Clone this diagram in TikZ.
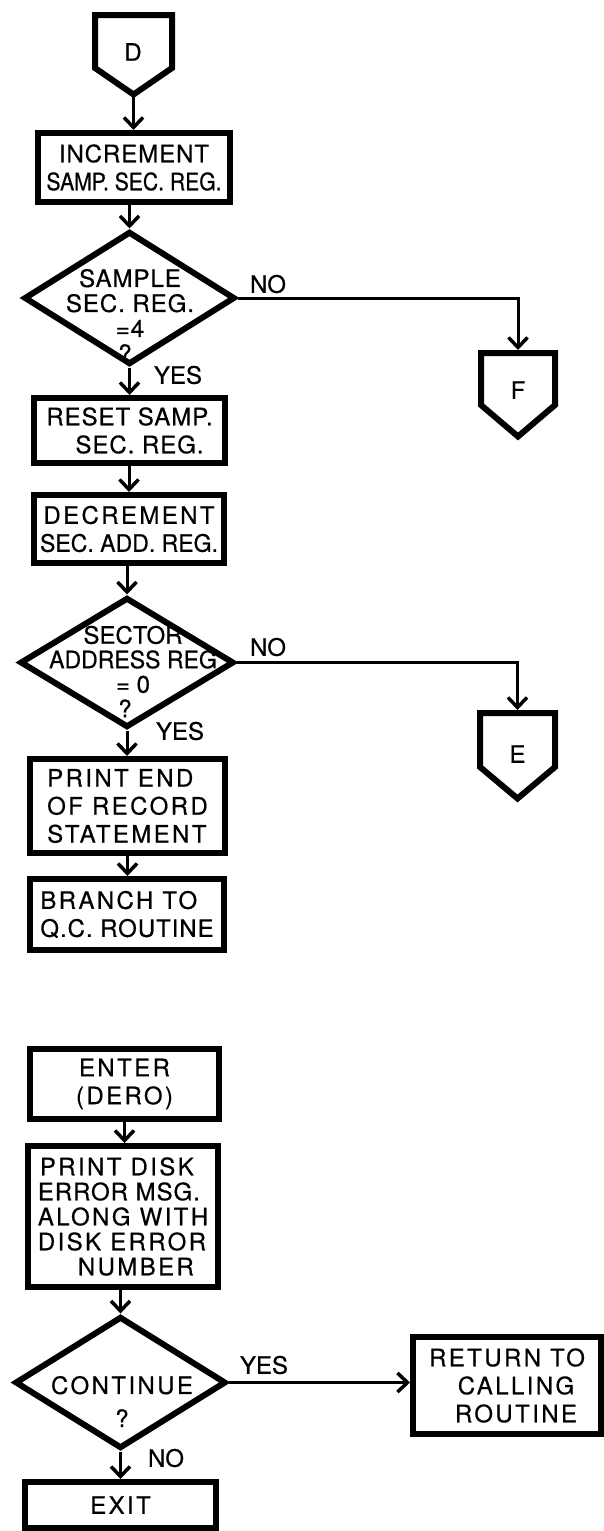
\documentclass[tikz,border=0pt]{standalone}
\usepackage{fontspec}
\usepackage{graphicx}
\usetikzlibrary{shapes.geometric,arrows.meta}
% hand-lettering look: one face, three letter spacings
\newfontfamily\lettering[LetterSpace=10,FakeBold=0.5]{TeX Gyre Heros}
\newfontfamily\letteringmid[LetterSpace=4,FakeBold=0.5]{TeX Gyre Heros}
\newfontfamily\letteringtight[FakeBold=0.5]{TeX Gyre Heros}

\tikzset{
  procbox/.style={draw, rectangle, line width=6pt, inner sep=0pt, align=center,
                  font=\lettering\fontsize{24}{28}\selectfont},
  decision/.style={draw, diamond, line width=6pt, inner sep=0pt},
  dtext/.style={inner sep=0pt, align=center, font=\letteringmid\fontsize{24}{25}\selectfont},
  flowlabel/.style={inner sep=0pt, font=\letteringtight\fontsize{24}{25}\selectfont},
  offpage/.style={line width=6pt, line join=miter},
  flowline/.style={line width=3pt, -{Straight Barb[length=10pt,width=19pt,line width=3.5pt]}},
}

\begin{document}
\begin{tikzpicture}[x=1pt, y=-1pt]
\useasboundingbox (0,0) rectangle (604,1531);

% ---- off-page connector D (entry) ----
\draw[offpage] (95,15) -- (172,15) -- (172,68) -- (133.5,94.5) -- (95,68) -- cycle;
\node[flowlabel] (dlbl) at (133,52) {D};
\coordinate (dtip) at (133.5,94.5);

% ---- sector loop ----
\node[procbox, minimum width=192pt, minimum height=69pt] (inc) at (134,167.5)
  {{\letteringmid INCREMENT}\\{\letteringtight\scalebox{0.88}[1]{SAMP. SEC. REG.}}};

\node[decision, minimum width=211pt, minimum height=133pt] (d1) at (129.5,298) {};
\node[dtext] (d1t) at (130,315.5) {SAMPLE\\SEC. REG.\\=4\\?\hspace*{10pt}};

\node[procbox, minimum width=191pt, minimum height=65pt] (reset) at (129.5,430.5)
  {{\letteringmid RESET SAMP.}\\\hspace*{20pt}{\letteringmid SEC. REG.}};

\node[procbox, minimum width=190pt, minimum height=68pt] (dec) at (129,529)
  {DECREMENT\\{\letteringtight\scalebox{0.96}[1]{SEC. ADD. REG.}}};

\node[decision, minimum width=214pt, minimum height=130pt] (d2) at (127,662.5) {};
\node[dtext, font=\letteringtight\fontsize{24}{24.5}\selectfont] (d2t) at (133,671.5)
  {SECTOR\\\scalebox{0.96}[1]{ADDRESS REG}\\= 0\hspace*{20pt}\\?\hspace*{16pt}};

\node[procbox, align=left, minimum width=195pt, minimum height=94pt] (pend) at (127.5,806)
  {PRINT END\\OF RECORD\\STATEMENT};

\node[procbox, align=left, minimum width=194pt, minimum height=71pt] (branch) at (127,914.5)
  {BRANCH TO\\{\letteringmid Q.C. ROUTINE}};

% ---- off-page connectors F and E ----
\draw[offpage] (481,353) -- (555,353) -- (555,405) -- (518,436.5) -- (481,405) -- cycle;
\node[flowlabel] (flbl) at (518,390) {F};
\coordinate (ftop) at (518,350);

\draw[offpage] (480,713) -- (555,713) -- (555,767) -- (517.5,798.5) -- (480,767) -- cycle;
\node[flowlabel] (elbl) at (517.5,754) {E};
\coordinate (etop) at (517.5,710);

% ---- disk error routine ----
\node[procbox, minimum width=189pt, minimum height=70pt] (enter) at (124.5,1084)
  {ENTER\\(DERO)};

\node[procbox, align=left, minimum width=190pt, minimum height=141pt,
      font=\lettering\fontsize{24}{25}\selectfont] (pdisk) at (123,1216.5)
  {\hspace*{2pt}PRINT DISK\\{\letteringmid ERROR MSG.}\\ALONG WITH\\DISK ERROR\\\hspace*{40pt}NUMBER};

\node[decision, minimum width=211pt, minimum height=132pt] (d3) at (120.5,1382.5) {};
\node[dtext, font=\lettering\fontsize{24}{33}\selectfont] (d3t) at (122,1401.5) {CONTINUE\\?};

\node[procbox, minimum width=188pt, minimum height=97.5pt] (ret) at (507,1385.5)
  {RETURN TO\\\hspace*{18pt}CALLING\\\hspace*{18pt}ROUTINE};

\node[procbox, minimum width=191pt, minimum height=46pt] (exit) at (120.5,1505) {EXIT};

% ---- connectors ----
\draw[flowline] (dtip) -- (dtip |- inc.north);
\draw[flowline] (inc.south -| d1.north) -- (d1.north);
\draw[flowline] (d1.east) -| (ftop);
\draw[flowline] (d1.south) -- (d1.south |- reset.north);
\draw[flowline] (reset.south -| dec.north) -- (dec.north);
\draw[flowline] (dec.south -| d2.north) -- (d2.north);
\draw[flowline] (d2.east) -| (etop);
\draw[flowline] (d2.south) -- (d2.south |- pend.north);
\draw[flowline] (pend.south) -- (pend.south |- branch.north);
\draw[flowline] (enter.south) -- (enter.south |- pdisk.north);
\draw[flowline] (pdisk.south -| d3.north) -- (d3.north);
\draw[flowline] (d3.east) -- (d3.east -| ret.west);
\draw[flowline] (d3.south) -- (d3.south |- exit.north);

% ---- branch labels ----
\node[flowlabel] (no1) at (268,284) {NO};
\node[flowlabel] (yes1) at (178,375) {YES};
\node[flowlabel] (no2) at (268,647) {NO};
\node[flowlabel] (yes2) at (180,731) {YES};
\node[flowlabel] (yes3) at (264,1365) {YES};
\node[flowlabel] (no3) at (166,1458) {NO};
\end{tikzpicture}
\end{document}
